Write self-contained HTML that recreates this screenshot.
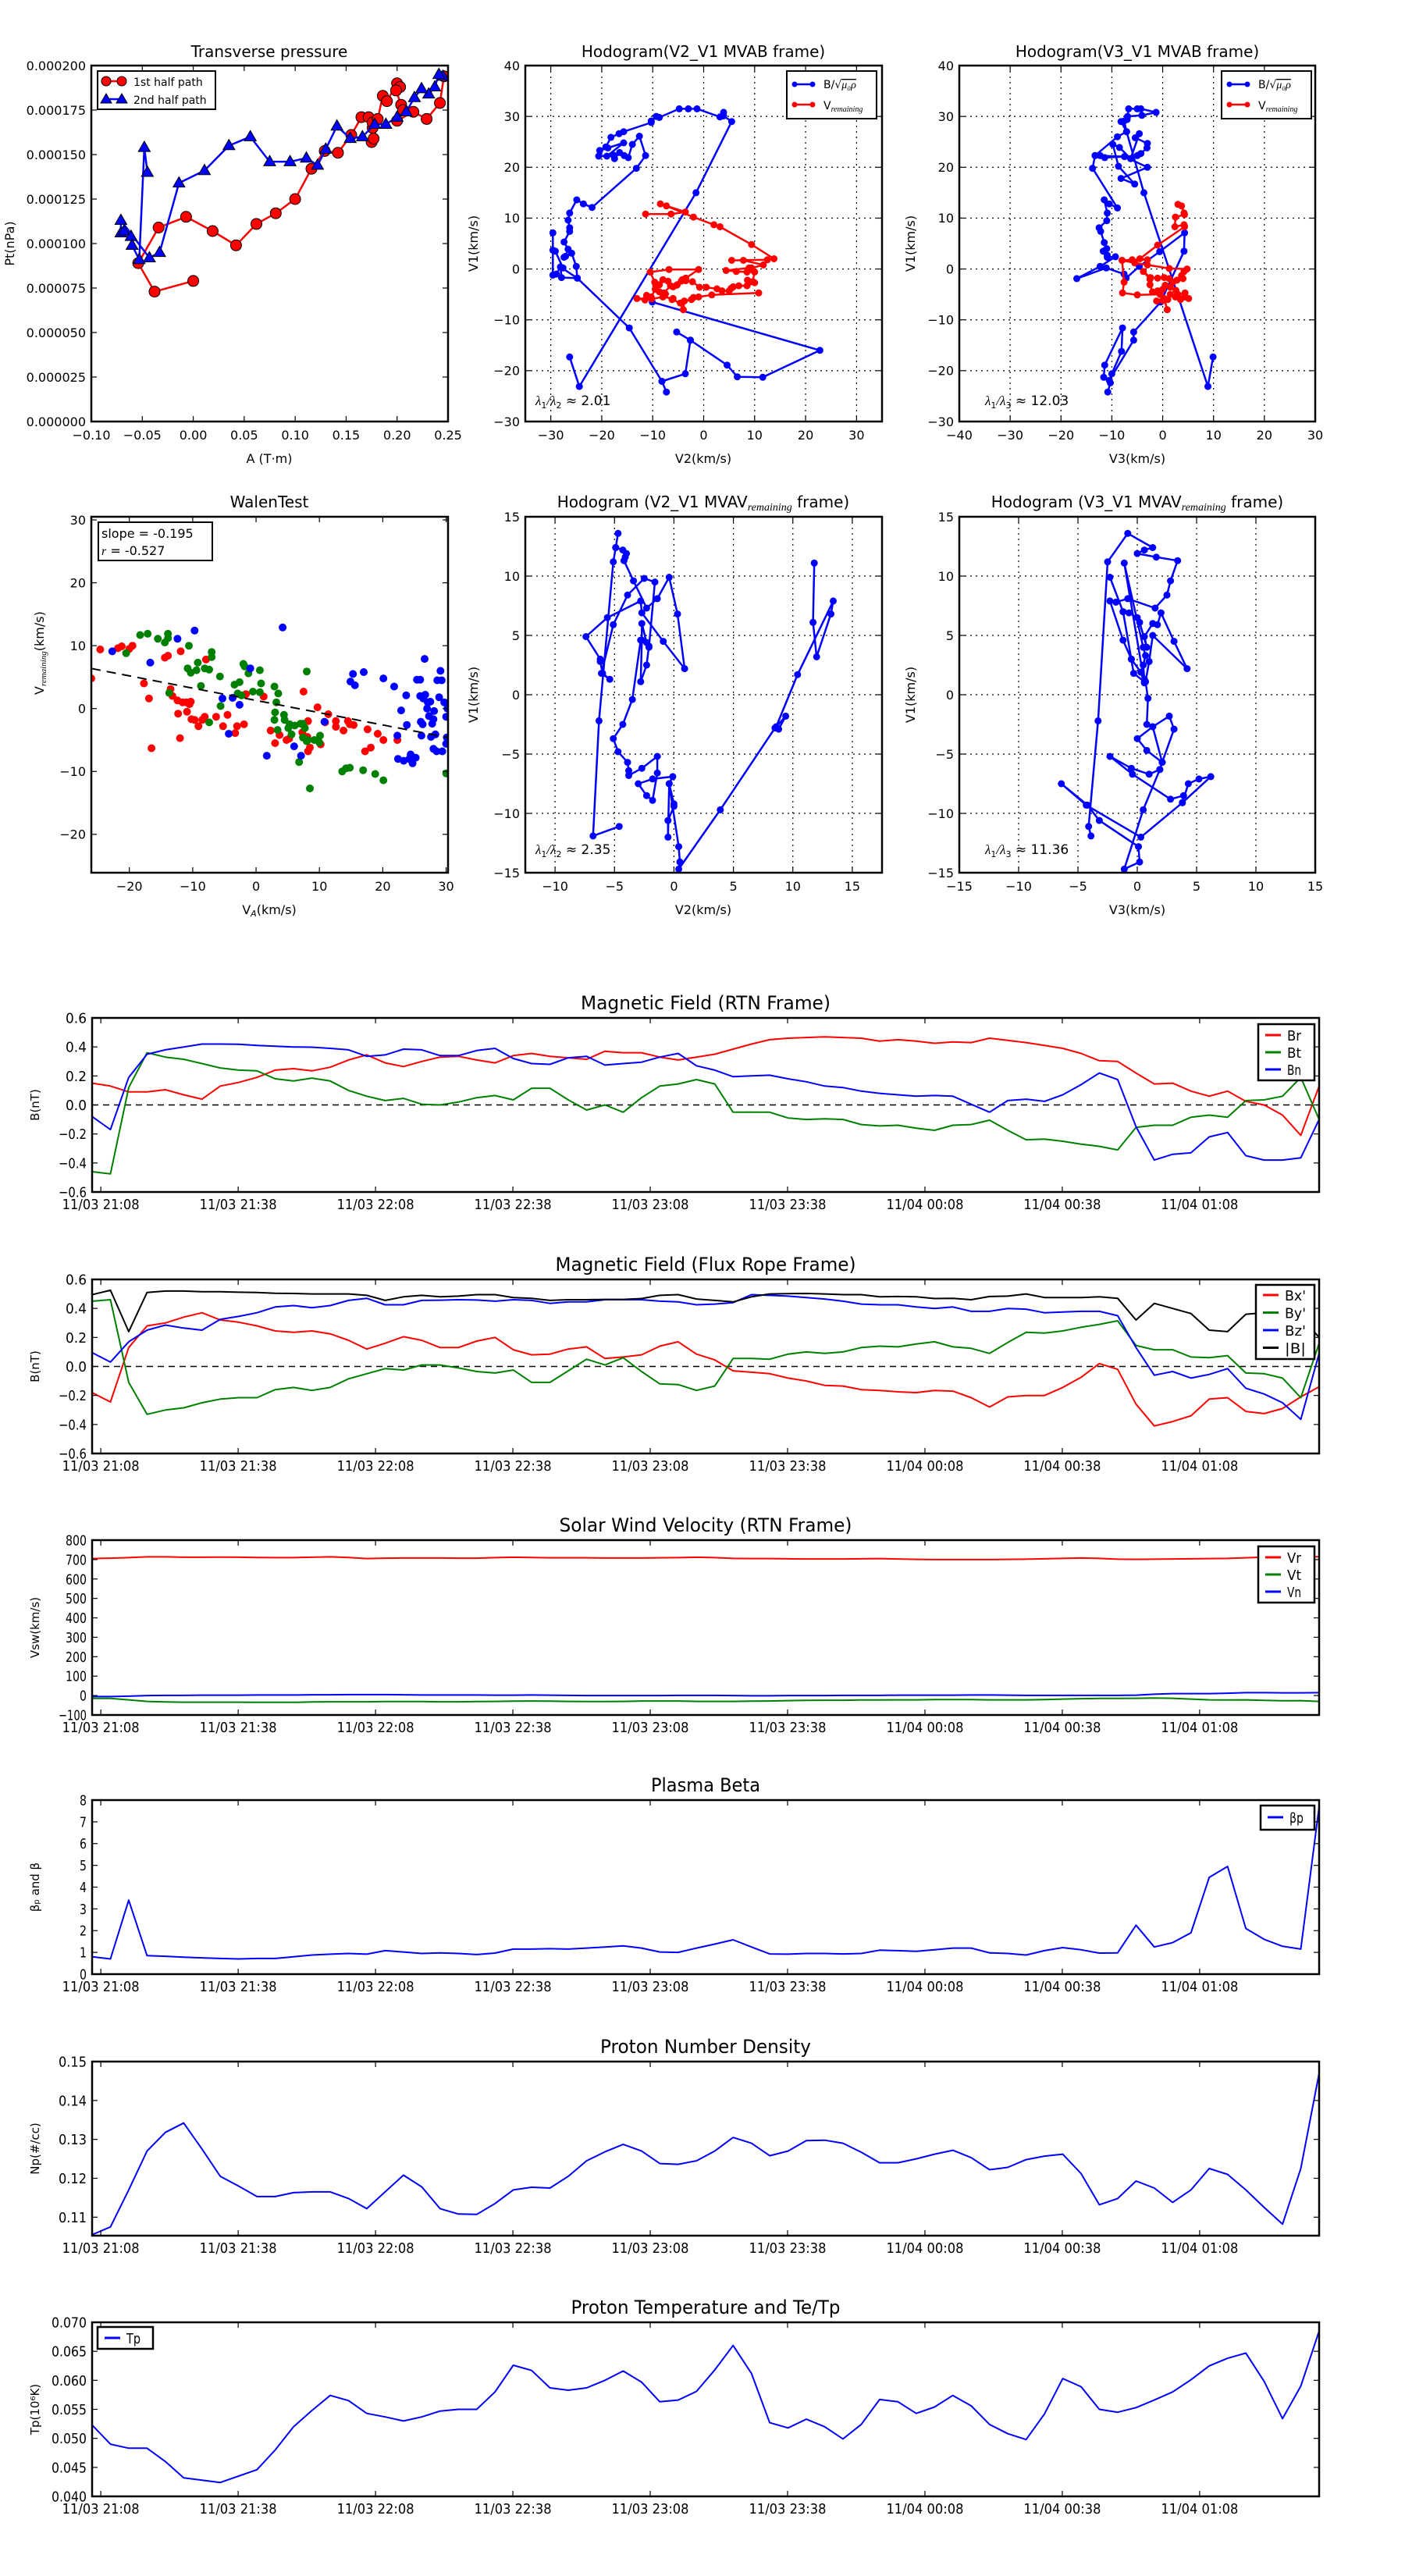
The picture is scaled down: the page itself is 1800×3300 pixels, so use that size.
<!DOCTYPE html>
<html>
<head>
<meta charset="utf-8">
<style>
html,body{margin:0;padding:0;background:#fff;}
svg{display:block;font-family:"DejaVu Sans","Liberation Sans",sans-serif;}
</style>
</head>
<body>
<svg id="fig" width="1800" height="3300" viewBox="0 0 1800 3300" xmlns="http://www.w3.org/2000/svg">
<rect x="0" y="0" width="1800" height="3300" fill="#fff"/>
</svg>
<script>
// ---------------- DATA ----------------
// Transverse pressure (A in T·m, Pt in 1e-6 nPa units)
const pt1A = [0,-0.038,-0.054,-0.034,-0.007,0.019,0.042,0.062,0.081,0.1,0.116,0.129,0.142,0.155,0.165,0.172,0.176,0.175,0.177,0.176,0.181,0.186,0.19,0.2,0.203,0.199,0.204,0.206,0.2,0.216,0.229,0.242,0.246];
const pt1P = [79,73,89,109,115,107,99,111,117,125,142,152,151,161,171,171,165,157,159,168,170,183,180,190,188,186,178,175,169,174,170,179,194];
const pt2A = [0.245,0.241,0.237,0.231,0.224,0.217,0.209,0.2,0.189,0.178,0.166,0.154,0.141,0.13,0.122,0.111,0.095,0.075,0.056,0.035,0.011,-0.014,-0.033,-0.043,-0.071,-0.071,-0.068,-0.061,-0.06,-0.053,-0.048,-0.045];
const pt2P = [194,195,188,184,187,182,174,171,167,167,160,159,166,153,144,148,146,146,160,155,141,134,95,92,113,106,107,104,99,91,154,140];
const ptXTicks = [-0.10,-0.05,0.00,0.05,0.10,0.15,0.20,0.25];
const ptXLabels = ["−0.10","−0.05","0.00","0.05","0.10","0.15","0.20","0.25"];
const ptYTicks = [0,25,50,75,100,125,150,175,200];
const ptYLabels = ["0.000000","0.000025","0.000050","0.000075","0.000100","0.000125","0.000150","0.000175","0.000200"];

// Hodogram V2-V1 MVAB
const h1BlueX = [-26.3,-24.4,-1.5,5.5,3.9,3.9,3.2,-1.3,-3,-4.8,-8.7,-9.3,-10.3,-10.3,-15.7,-16.6,-18.2,-19.2,-20.4,-18.8,-15.7,-19,-20.6,-17.7,-17.5,-16.5,-15.6,-14.8,-14,-12.6,-11.4,-13.2,-21.9,-23.6,-24.9,-26.3,-26.6,-26.3,-26.3,-27.4,-26.6,-27.1,-27.4,-25.9,-25,-24.8,-27.9,-28.1,-27.6,-29.1,-29.6,-29.6,-29.6,-28.9,-28.1,-24.8,-14.6,-8.2,-7.3,-8.2,-3.6,-2.6,-5.3,-2.6,4.6,6.6,11.6,22.8,-10.1];
const h1BlueY = [-17.3,-23.1,15,29,30.1,30.8,29.9,31.5,31.5,31.5,29.8,30,29.1,28.8,27,26.6,25.9,24,23.3,23.8,24.8,22.2,22.2,22.4,21.7,22.9,22.3,21.9,24.5,26.1,22.3,19.8,12.1,12.8,13.6,11,9.6,8.1,7.4,5.3,3.9,2.5,2.3,3.1,0.5,-1.8,-1.7,0.4,0.2,3.5,3.7,7.1,-1.2,-1,0.4,-1.8,-11.6,-22.1,-24.2,-22.1,-20.6,-14,-12.4,-14,-18.9,-21.2,-21.3,-16,-6.5];
const h1RedX = [-11.4,-6.4,-3.6,-8.5,-7.3,-2,2,3.2,9.4,13.8,12.5,5.5,7.8,11.7,9.4,8.9,4.4,6.4,8.5,10,9.6,8.6,10,8.5,6.9,5.8,5.4,5,3.6,2.6,0.5,-0.8,-2.2,-3.5,-4.4,-5.2,-4.2,-3.5,-1,-6.8,-10.5,-9.6,-8.7,-9.4,-8,-7,-6,-5.3,-6.5,-7.8,-7.5,-8.7,-9.5,-10.3,-11.2,-11.5,-13.1,-10.2,-8,-6,-6.2,-4.6,-4,-3.8,-2.4,-2,-1,1.6,10.8];
const h1RedY = [10.8,10.8,11.2,12.8,12.4,10.2,8.7,8.3,4.8,2,1.8,1.7,1.7,0.8,0.2,0.2,-0.3,-0.5,-0.6,-0.6,-2.5,-2.2,-2.7,-3.3,-3.3,-3.5,-3.8,-4.3,-4.3,-3.9,-3.6,-3.6,-2.5,-2.3,-2.4,-3.1,-2.1,-1.8,-0.1,-0.1,-0.6,-2.6,-3.1,-3.5,-2.1,-2.4,-3.5,-3.2,-3.3,-4.7,-4.9,-4.5,-4,-5.5,-5.2,-6.1,-5.8,-5.9,-5.5,-5.8,-6,-6.7,-8,-6.3,-6,-5.6,-5.5,-5.1,-4.7];

// Hodogram V3-V1 MVAB
const h3BlueX = [9.9,8.9,-3.7,-7.1,-7.6,-6.9,-4.1,-1.3,-4.3,-5,-6.7,-7,-8.2,-7.1,-8.9,-13.3,-12.3,-11.4,-7.5,-6.3,-5,-4.3,-3.1,-3,-5.4,-4.6,-6.3,-8.5,-9.8,-8.7,-5.5,-8.2,-3,-7.5,-13.3,-13.8,-8.9,-10.5,-11.5,-10.9,-11,-12.5,-12.2,-11.5,-11,-11.7,-10.9,-10.9,-9.3,-12.3,-16.9,-11.1,-7.6,-7.2,-4.6,-0.6,4.3,4.2,-0.4,-5.7,-5.7,-10.5,-10,-8.1,-7.9,-11.4,-11.6,-10.3,-10.8];
const h3BlueY = [-17.3,-23.1,15,27,29.1,30,30.2,30.8,31.5,31.5,31.5,29.4,29,27,26,22.3,22.3,21.9,22.1,21.7,22.3,22.7,23.8,24.7,25.8,26.6,21.7,23.9,24.5,20.2,16.7,17.8,20,22.1,22.3,19.8,12,12.8,13.6,11,9.5,8.1,7.4,5.2,4,3.5,2.7,2.3,2.4,0.5,-1.9,0.2,-1,-1.8,0.5,3.4,7.1,3.5,-6.5,-12.4,-14,-21.9,-20.6,-16.2,-11.6,-18.9,-21.3,-22.4,-24.2];
const h3RedX = [3,3.7,4.2,4.3,2.5,2.4,4.2,4.3,-1,-4.5,-3,-6,-8,-5.5,-3,1.3,4.8,4.2,3.7,4,2.8,2,1.3,0.3,-1,-2.4,-3.8,-2.5,-2.5,-2,-1,0,0.5,1.5,2.6,3,4.4,4.3,5.1,3.5,2.5,1.5,1,0,-1.2,0.3,0.9,0.3,-0.5,-5,-7.9,-7.6,-8];
const h3RedY = [12.7,12.4,11,10.7,10.2,8.3,8.7,8.3,4.7,2,1.8,1.8,1.7,1.2,0.8,0.1,0,-0.5,-1.3,-1.9,-2.2,-2.6,-1.9,-1.7,-1.8,-1.7,-0.5,-2,-3.1,-4.5,-4.3,-4,-3.2,-3.6,-4.2,-5,-4.7,-5.5,-5.8,-6,-5.5,-5,-6,-6.2,-6.3,-5.8,-8,-6,-5,-5.1,-4.7,-2.6,1.7];

// Walen test
const walRedX = [-26,-24.6,-21.8,-21.2,-20,-19.5,-17.7,-16.9,-16.5,-14.4,-13.9,-13.5,-13.2,-12.4,-12.3,-12,-11.9,-11.6,-11,-10.9,-10.5,-10.3,-10.2,-9.7,-9.1,-8.5,-8.1,-7.9,-6.3,-5.2,-4.5,-3.3,-3,-1.9,-1.6,1.2,2.3,3,3.7,4.8,5.2,7.3,7.5,8.2,8.1,8.5,8.2,9.7,10.2,10.9,11.4,12.6,12.6,13.8,14.5,15.4,17.2,17.6,18.1,19.2,20.1,22.3,14.8];
const walRedY = [4.8,9.4,9.6,9.9,9.5,10,4,1.6,-6.3,8.1,8.4,3.1,2,1.3,-0.8,-4.7,9.1,1,1,-0.5,0.7,1.1,-1.7,-1.8,-2.8,-1.8,-1.3,7.8,-1.3,-2.8,-1,-3.9,-2.8,-2.5,2.3,1.9,-3.5,-5.5,-4.2,-5,-4.8,-3.8,2.7,-6.8,-4.5,-6.2,-2,0.2,-5.7,-2.2,-0.9,-2,-2.9,-3.5,-2,-2.6,-6.8,-3.3,-6.2,-4,-5,-5,-2.5];
const walGreenX = [-20.5,-18.3,-17.1,-15.5,-14.4,-13.9,-13.9,-13.7,-10.6,-10.8,-10.3,-9.2,-9.4,-8.7,-8.1,-7.4,-7.4,-7,-7,-5.7,-5.6,-3.4,-2.6,-2.9,-2.3,-2,-1.8,-1.2,-0.5,0.6,0.6,0.8,2.9,3.2,3.5,3,2.9,3.4,4.4,4.5,5.1,5.3,5.6,6.1,6.8,7,7.4,7.4,7.7,8,8,8.5,8.2,9.2,10,10.1,13.6,14.2,14.8,16.9,18.8,20.1,30];
const walGreenY = [8.8,11.7,11.9,11.1,10.5,11.9,11.2,2.5,10,6.4,5.7,7.3,6.1,3.6,6.4,6.2,-2.2,8.2,9,5.1,0.4,3.8,4.2,2.4,2.1,7.1,6.7,5.6,2.7,2.6,6.1,4,3.5,1,2.4,-0.6,-1.8,-3.4,-1,-1.8,-3.1,-2.5,-4.1,-2.7,-8.5,-2.4,-2.4,-4.6,-3.1,-5.2,5.9,-12.7,-5,-5,-5.4,-4.3,-10,-9.5,-9.4,-9.8,-10.4,-11.4,-10.3];
const walBlueX = [-22.7,-16.7,-12.4,-9.7,-5.3,-3.7,-4.3,-2.6,-0.9,1.7,4.2,6,7.1,10.8,14.9,15.3,15.6,17,20.1,21.8,22.3,22.4,22.9,23.3,23.7,23.8,24.2,24.4,24.7,25.2,25.4,25.9,25.9,26,26.1,26.3,26.4,26.6,26.7,27,27.1,27.3,27.6,27.5,27.8,28,28,28.1,28.3,28.5,28.6,28.9,29.1,29.3,29.4,29.7,30,30,30.2,30.1];
const walBlueY = [9.1,7.3,11.1,12.4,1.6,1.7,-4,0.6,6.4,-7.5,12.9,-6,-7.5,-2.1,4.3,5.5,3.7,5.8,4.8,3.5,-4.3,-8,-0.3,-8.3,2.1,-2.6,-8,-7.3,-8.7,-7.8,4.6,4.6,2,-2.1,-4.3,-2.5,1.6,7.9,2.2,0,1,-1.2,-4.5,1.1,-2.4,-6.4,-1.7,-0.4,-4.1,-6.8,4.5,1.8,6,4.5,-6.8,1,-1.3,-5.6,0,-4.6];
const walSlope = [-0.195];
const walIntercept = [1.3];
const walFitRange = [-26, 30.3];

// Hodogram V2-V1 MVAV remaining
const h2rX = [-4.6,-6.8,-6.3,-5.1,-4.9,-4.7,-4.9,-4.3,-4,-4.1,-4.2,-3.4,-2.3,-1.4,-0.4,0.3,0.9,-0.9,-2.7,-2.8,-5.6,-7.4,-6.2,-6.2,-6,-5.4,-6.1,-5.1,-3.9,-2.5,-1.6,-2.1,-2.3,-2.7,-2.7,-2.8,-2.3,-2.1,-2.8,-3.5,-4.3,-5.1,-4.7,-3.9,-3.8,-3.8,-2.7,-1.4,-1.4,-1.8,-2.3,-3,-1.8,-0.1,-0.4,0,0,-0.5,-0.5,-0.4,0.4,0.5,0.4,3.9,8.5,8.8,9.4,8.6,10.4,13.4,13.2,12,11.7,11.8];
const h2rY = [-11.1,-11.9,-2.2,11.2,12.4,13.6,12.4,12.2,11.9,11.6,11.3,9.6,7.3,8.1,9.9,6.8,2.2,4.5,6.9,7.9,6.5,4.9,3,2.8,1.8,1.3,1.8,5.9,8.4,9.8,9.5,4,4.4,6,4.6,1.1,2.5,4.1,4.6,-0.4,-2.5,-3.7,-4.8,-5.7,-6.4,-6.8,-6.2,-5.2,-6.6,-8.9,-8.5,-7.5,-7.1,-6.9,-7.5,-9.2,-9.4,-10.6,-12,-7.5,-12.8,-14.1,-14.7,-9.7,-2.8,-2.9,-1.8,-2.7,1.7,7.9,6.8,3.2,6.1,11.1];

// Hodogram V3-V1 MVAV remaining
const h3rX = [-3.9,-4.1,-3.3,-2.5,-0.8,1.3,0.6,0,1.6,3.4,2.8,2.5,1.5,-0.8,-1.8,-2.3,-1.2,-0.5,0.3,0.6,-1.1,0.5,0.7,0.5,0.6,0.6,-0.3,-0.5,-1.2,-2.3,-1.2,-0.7,0,0.2,0.8,0.6,1.3,1.7,2,3.1,4.2,1.3,1,0.7,0.9,0.8,1.3,2.7,3.1,2.1,0.8,0,1.3,2.1,1.9,1,-0.5,-2.3,-0.4,2.8,3.9,3.8,4.3,5.2,6.2,3.8,0.3,-4.3,-6.4,-4.2,-3.2,0.1,0.2,-1.1,0.5,1.9];
const h3rY = [-11.9,-11.1,-2.2,11.2,13.6,12.4,12.2,11.9,11.6,11.3,9.6,8.4,7.3,8.1,7.8,7.9,4.6,3,1.9,1,11.1,4,3.3,2.5,1.3,1.1,1.8,3,7,9.9,7,6.9,6.5,6.1,4,4.9,6,5.9,6.9,4.5,2.2,5,2.8,1.1,-0.3,-2.5,-2.7,-1.8,-2.9,-5.7,-4.7,-3.7,-2.7,-5.7,-6.3,-6.7,-6.2,-5.2,-6.7,-8.8,-8.5,-9.1,-7.5,-7.1,-6.9,-9.1,-12,-9.3,-7.5,-9.3,-10.6,-12.8,-14.1,-14.7,-9.7,-6.3];

// Time series (68 samples, 4-minute cadence)
const tsStartMin = -1.9;
const tsStepMin = 4;
const timeTickMin = [0,30,60,90,120,150,180,210,240];
const timeTickLabels = ["11/03 21:08","11/03 21:38","11/03 22:08","11/03 22:38","11/03 23:08","11/03 23:38","11/04 00:08","11/04 00:38","11/04 01:08"];

const Br = [0.15,0.13,0.09,0.09,0.105,0.07,0.04,0.13,0.155,0.19,0.24,0.25,0.235,0.26,0.31,0.345,0.29,0.265,0.30,0.33,0.335,0.31,0.29,0.34,0.355,0.335,0.325,0.315,0.37,0.36,0.36,0.33,0.31,0.33,0.35,0.385,0.42,0.45,0.46,0.465,0.47,0.465,0.46,0.44,0.45,0.44,0.425,0.435,0.43,0.46,0.445,0.43,0.41,0.39,0.355,0.305,0.30,0.22,0.145,0.15,0.095,0.06,0.095,0.025,0,-0.07,-0.21,0.13];
const Bt = [-0.46,-0.475,0.12,0.36,0.33,0.315,0.285,0.255,0.24,0.235,0.18,0.165,0.185,0.165,0.1,0.06,0.03,0.045,0.005,0,0.02,0.05,0.065,0.035,0.115,0.115,0.035,-0.035,0,-0.05,0.05,0.13,0.145,0.175,0.145,-0.05,-0.05,-0.05,-0.09,-0.1,-0.095,-0.1,-0.135,-0.145,-0.14,-0.16,-0.175,-0.14,-0.135,-0.105,-0.175,-0.24,-0.235,-0.25,-0.27,-0.285,-0.31,-0.155,-0.14,-0.14,-0.085,-0.07,-0.085,0.03,0.035,0.06,0.19,-0.1];
const Bn = [-0.08,-0.17,0.19,0.35,0.38,0.40,0.42,0.42,0.418,0.41,0.405,0.4,0.398,0.39,0.38,0.335,0.345,0.385,0.38,0.34,0.34,0.375,0.39,0.32,0.285,0.28,0.325,0.335,0.275,0.285,0.295,0.33,0.355,0.27,0.24,0.195,0.2,0.205,0.18,0.16,0.13,0.12,0.095,0.08,0.07,0.06,0.065,0.06,0.005,-0.05,0.03,0.04,0.025,0.07,0.14,0.22,0.175,-0.15,-0.38,-0.34,-0.33,-0.22,-0.19,-0.35,-0.38,-0.38,-0.365,-0.1];

const Bxp = [-0.18,-0.245,0.13,0.28,0.30,0.34,0.37,0.32,0.305,0.28,0.245,0.235,0.245,0.225,0.18,0.12,0.16,0.205,0.18,0.13,0.13,0.175,0.2,0.115,0.08,0.085,0.12,0.135,0.055,0.065,0.08,0.14,0.17,0.085,0.045,-0.03,-0.04,-0.05,-0.08,-0.1,-0.13,-0.135,-0.16,-0.165,-0.175,-0.18,-0.165,-0.17,-0.215,-0.28,-0.21,-0.2,-0.2,-0.145,-0.075,0.02,-0.02,-0.26,-0.41,-0.38,-0.34,-0.225,-0.215,-0.31,-0.325,-0.29,-0.21,-0.14];
const Byp = [0.45,0.46,-0.11,-0.33,-0.3,-0.285,-0.25,-0.225,-0.215,-0.215,-0.16,-0.145,-0.165,-0.145,-0.085,-0.05,-0.015,-0.025,0.01,0.01,-0.01,-0.035,-0.045,-0.025,-0.11,-0.11,-0.03,0.05,0.01,0.06,-0.035,-0.12,-0.125,-0.165,-0.135,0.055,0.055,0.05,0.085,0.1,0.09,0.1,0.13,0.14,0.135,0.155,0.17,0.135,0.125,0.09,0.165,0.235,0.23,0.245,0.27,0.29,0.315,0.145,0.115,0.115,0.065,0.06,0.075,-0.045,-0.05,-0.08,-0.215,0.16];
const Bzp = [0.095,0.03,0.17,0.25,0.285,0.265,0.25,0.325,0.345,0.37,0.41,0.42,0.405,0.42,0.455,0.47,0.425,0.425,0.455,0.457,0.46,0.458,0.45,0.46,0.455,0.435,0.445,0.445,0.46,0.46,0.46,0.45,0.445,0.425,0.43,0.44,0.495,0.49,0.485,0.475,0.465,0.45,0.43,0.425,0.425,0.41,0.4,0.41,0.38,0.38,0.4,0.395,0.37,0.375,0.38,0.38,0.35,0.13,-0.06,-0.035,-0.08,-0.055,-0.015,-0.15,-0.19,-0.25,-0.365,0.09];
const Bmag = [0.495,0.525,0.24,0.51,0.52,0.52,0.515,0.515,0.512,0.51,0.505,0.503,0.5,0.5,0.5,0.49,0.455,0.48,0.49,0.48,0.485,0.495,0.495,0.475,0.47,0.455,0.46,0.46,0.462,0.462,0.468,0.49,0.495,0.465,0.455,0.445,0.48,0.5,0.502,0.503,0.5,0.495,0.495,0.48,0.482,0.48,0.468,0.47,0.46,0.482,0.485,0.5,0.475,0.475,0.475,0.48,0.47,0.32,0.435,0.4,0.365,0.25,0.24,0.36,0.37,0.35,0.34,0.2];

const Vr = [705,707,710,714,714,712,712,713,712,711,710,710,712,714,711,705,707,708,708,708,707,707,710,712,711,709,709,709,708,708,708,709,710,712,710,706,705,705,704,703,703,703,704,705,703,701,700,700,700,700,701,702,704,706,708,706,702,701,702,703,704,705,706,709,713,715,715,714];
const Vt = [-15,-15,-22,-30,-33,-34,-34,-34,-34,-35,-35,-35,-33,-32,-32,-32,-31,-31,-31,-32,-32,-31,-30,-29,-28,-29,-30,-31,-31,-30,-28,-28,-28,-30,-30,-30,-29,-28,-26,-25,-24,-24,-23,-23,-22,-22,-21,-21,-21,-22,-22,-22,-21,-18,-16,-15,-15,-14,-13,-14,-18,-22,-23,-22,-25,-27,-26,-30];
const Vn = [-5,-5,-3,0,1,1,2,2,2,3,3,3,4,4,5,5,5,4,3,3,3,3,2,2,3,2,1,0,0,0,0,0,1,1,1,0,-1,-1,0,0,0,1,1,1,2,2,2,2,3,3,2,1,1,1,1,1,1,2,7,10,10,10,12,15,15,14,14,15];

const betaP = [0.8,0.7,3.4,0.85,0.82,0.78,0.75,0.72,0.7,0.72,0.72,0.8,0.88,0.92,0.95,0.92,1.08,1.02,0.95,0.98,0.95,0.9,0.97,1.15,1.15,1.17,1.15,1.2,1.25,1.3,1.2,1.02,1.0,1.2,1.38,1.58,1.25,0.93,0.92,0.95,0.95,0.93,0.95,1.1,1.08,1.05,1.12,1.2,1.2,0.98,0.95,0.88,1.08,1.22,1.12,0.97,0.98,2.25,1.25,1.45,1.9,4.45,4.95,2.1,1.6,1.28,1.15,7.7];

const Np = [0.1055,0.1075,0.117,0.127,0.1318,0.1342,0.1275,0.1205,0.118,0.1153,0.1153,0.1163,0.1165,0.1165,0.1148,0.1122,0.1165,0.1208,0.1178,0.1122,0.1108,0.1107,0.1135,0.117,0.1177,0.1175,0.1205,0.1245,0.1268,0.1287,0.127,0.1238,0.1236,0.1245,0.127,0.1305,0.129,0.1258,0.127,0.1297,0.1298,0.129,0.1267,0.124,0.124,0.125,0.1262,0.1272,0.1253,0.1222,0.1228,0.1248,0.1257,0.1262,0.1212,0.1132,0.1148,0.1193,0.1175,0.1138,0.117,0.1225,0.121,0.117,0.1125,0.1082,0.1225,0.147];

const Tp = [0.0523,0.049,0.0483,0.0483,0.046,0.0432,0.0428,0.0424,0.0435,0.0446,0.048,0.052,0.0548,0.0574,0.0565,0.0543,0.0537,0.053,0.0537,0.0547,0.055,0.055,0.058,0.0626,0.0617,0.0587,0.0583,0.0587,0.06,0.0616,0.0597,0.0563,0.0566,0.0581,0.0618,0.066,0.0612,0.0527,0.0518,0.0533,0.052,0.0499,0.0524,0.0567,0.0563,0.0543,0.0554,0.0574,0.0556,0.0524,0.0508,0.0498,0.0542,0.0603,0.0589,0.055,0.0545,0.0553,0.0566,0.058,0.0601,0.0625,0.0638,0.0647,0.0598,0.0534,0.059,0.0685];

// ---------------- HELPERS ----------------
const NS = 'http://www.w3.org/2000/svg';
const svg = document.getElementById('fig');
let clipN = 0;

function mk(tag, attrs, parent, name, inter) {
  const e = document.createElementNS(NS, tag);
  for (const k in attrs) e.setAttribute(k, attrs[k]);
  
  
  parent.appendChild(e);
  return e;
}
function txt(parent, x, y, s, opts, name) {
  const a = {x: x, y: y, 'font-size': opts.fs || 16, fill: '#000'};
  if (opts.anchor) a['text-anchor'] = opts.anchor;
  if (opts.rot) a.transform = 'rotate(' + opts.rot + ' ' + x + ' ' + y + ')';
  if (opts.narrow) { a.textLength = (opts.len || s.length * (opts.fs || 16) * 0.5); a.lengthAdjust = 'spacingAndGlyphs'; }
  if (opts.family) a['font-family'] = opts.family;
  if (opts.style) a['font-style'] = opts.style;
  const t = mk('text', a, parent, name, false);
  t.textContent = s;
  return t;
}

function axes(cfg) {
  const g = mk('g', {}, svg, cfg.name, false);
  const sx = v => cfg.x0 + (v - cfg.xmin) / (cfg.xmax - cfg.xmin) * (cfg.x1 - cfg.x0);
  const sy = v => cfg.y1 - (v - cfg.ymin) / (cfg.ymax - cfg.ymin) * (cfg.y1 - cfg.y0);
  const fs = cfg.tickFs || 16;
  const tl = 7;
  // grid
  if (cfg.grid) {
    cfg.xticks.forEach(v => {
      const X = sx(v);
      if (X > cfg.x0 + 1 && X < cfg.x1 - 1) mk('line', {x1: X, x2: X, y1: cfg.y0, y2: cfg.y1, stroke: '#000', 'stroke-width': 1.2, 'stroke-dasharray': '2,5'}, g, 'x-grid-line', false);
    });
    cfg.yticks.forEach(v => {
      const Y = sy(v);
      if (Y > cfg.y0 + 1 && Y < cfg.y1 - 1) mk('line', {x1: cfg.x0, x2: cfg.x1, y1: Y, y2: Y, stroke: '#000', 'stroke-width': 1.2, 'stroke-dasharray': '2,5'}, g, 'y-grid-line', false);
    });
  }
  // clip
  const id = 'clip' + (clipN++);
  const cp = mk('clipPath', {id: id}, g, 'plot-clip', false);
  mk('rect', {x: cfg.x0, y: cfg.y0, width: cfg.x1 - cfg.x0, height: cfg.y1 - cfg.y0}, cp, 'plot-clip-rect', false);
  const plot = mk('g', {'clip-path': 'url(#' + id + ')'}, g, 'plot-area', false);
  // ticks
  const tg = mk('g', {}, g, 'ticks', false);
  cfg.xticks.forEach((v, i) => {
    const X = sx(v);
    mk('line', {x1: X, x2: X, y1: cfg.y1, y2: cfg.y1 - tl, stroke: '#000', 'stroke-width': 1.2}, tg, 'x-tick', false);
    mk('line', {x1: X, x2: X, y1: cfg.y0, y2: cfg.y0 + tl, stroke: '#000', 'stroke-width': 1.2}, tg, 'x-tick-top', false);
    txt(tg, X, cfg.y1 + (cfg.xTickDy || 23), cfg.xlabels[i], {fs: fs, anchor: 'middle', narrow: cfg.narrow}, 'x-tick-label');
  });
  cfg.yticks.forEach((v, i) => {
    const Y = sy(v);
    mk('line', {x1: cfg.x0, x2: cfg.x0 + tl, y1: Y, y2: Y, stroke: '#000', 'stroke-width': 1.2}, tg, 'y-tick', false);
    mk('line', {x1: cfg.x1, x2: cfg.x1 - tl, y1: Y, y2: Y, stroke: '#000', 'stroke-width': 1.2}, tg, 'y-tick-right', false);
    txt(tg, cfg.x0 - 7, Y + fs * 0.36, cfg.ylabels[i], {fs: fs, anchor: 'end', narrow: cfg.narrow}, 'y-tick-label');
  });
  return {g: g, plot: plot, sx: sx, sy: sy, cfg: cfg};
}
function frame(ax) {
  const c = ax.cfg;
  mk('rect', {x: c.x0, y: c.y0, width: c.x1 - c.x0, height: c.y1 - c.y0, fill: 'none', stroke: '#000', 'stroke-width': c.frameW || 2.5}, ax.g, 'axes-frame', false);
}
function polyline(ax, xs, ys, color, w, name) {
  const pts = xs.map((x, i) => ax.sx(x).toFixed(1) + ',' + ax.sy(ys[i]).toFixed(1)).join(' ');
  return mk('polyline', {points: pts, fill: 'none', stroke: color, 'stroke-width': w, 'stroke-linejoin': 'round'}, ax.plot, name, false);
}
function dots(ax, xs, ys, color, r, name, stroke) {
  const g = mk('g', {}, ax.plot, name, false);
  xs.forEach((x, i) => {
    const c = mk('circle', {cx: ax.sx(x).toFixed(1), cy: ax.sy(ys[i]).toFixed(1), r: r, fill: color}, g, name + '-point', false);
    if (stroke) { c.setAttribute('stroke', stroke); c.setAttribute('stroke-width', 1); }
  });
  return g;
}
function tris(ax, xs, ys, color, s, name) {
  const g = mk('g', {}, ax.plot, name, false);
  xs.forEach((x, i) => {
    const X = ax.sx(x), Y = ax.sy(ys[i]);
    mk('polygon', {points: (X) + ',' + (Y - s) + ' ' + (X - s * 0.95) + ',' + (Y + s * 0.65) + ' ' + (X + s * 0.95) + ',' + (Y + s * 0.65), fill: color, stroke: '#000', 'stroke-width': 1}, g, name + '-point', false);
  });
  return g;
}
function rng(a, b, st) { const r = []; for (let v = a; v <= b + 1e-9; v += st) r.push(Math.round(v * 1000) / 1000); return r; }
function lab(arr) { return arr.map(v => (v < 0 ? '−' + (-v) : '' + v)); }

// ---------------- TOP ROW ----------------
const R1 = {y0: 84, y1: 540};
const R2 = {y0: 662, y1: 1118};
const PX = [[117, 574], [673, 1130], [1229, 1685]];

// Panel: Transverse pressure
(function () {
  const ax = axes({name: 'transverse-pressure-chart', x0: PX[0][0], x1: PX[0][1], y0: R1.y0, y1: R1.y1, xmin: -0.1, xmax: 0.25, ymin: 0, ymax: 200,
    xticks: ptXTicks, xlabels: ptXLabels, yticks: ptYTicks, ylabels: ptYLabels, tickFs: 16});
  polyline(ax, pt1A, pt1P, '#f00', 2.5, 'first-half-path-line');
  dots(ax, pt1A, pt1P, '#f00', 7, 'first-half-path-markers', '#000');
  polyline(ax, pt2A, pt2P, '#00f', 2.5, 'second-half-path-line');
  tris(ax, pt2A, pt2P, '#00f', 8, 'second-half-path-markers');
  frame(ax);
  txt(ax.g, 345, 73, 'Transverse pressure', {fs: 20, anchor: 'middle'}, 'chart-title');
  txt(ax.g, 345, 593, 'A (T·m)', {fs: 16, anchor: 'middle'}, 'x-axis-title');
  txt(ax.g, 18, 312, 'Pt(nPa)', {fs: 16, anchor: 'middle', rot: -90}, 'y-axis-title');
  const lg = mk('g', {}, ax.g, 'legend', false);
  mk('rect', {x: 125, y: 91, width: 151, height: 49, fill: '#fff', stroke: '#000', 'stroke-width': 2}, lg, 'legend-box', false);
  mk('line', {x1: 136, x2: 156, y1: 104, y2: 104, stroke: '#f00', 'stroke-width': 2.5}, lg, 'legend-line-first', false);
  mk('circle', {cx: 136, cy: 104, r: 6, fill: '#f00', stroke: '#000'}, lg, 'legend-marker-first', false);
  mk('circle', {cx: 156, cy: 104, r: 6, fill: '#f00', stroke: '#000'}, lg, 'legend-marker-first', false);
  txt(lg, 171, 110, '1st half path', {fs: 14}, 'legend-entry-first-half');
  mk('line', {x1: 136, x2: 156, y1: 127, y2: 127, stroke: '#00f', 'stroke-width': 2.5}, lg, 'legend-line-second', false);
  mk('polygon', {points: '136,120 129,132 143,132', fill: '#00f', stroke: '#000'}, lg, 'legend-marker-second', false);
  mk('polygon', {points: '156,120 149,132 163,132', fill: '#00f', stroke: '#000'}, lg, 'legend-marker-second', false);
  txt(lg, 171, 133, '2nd half path', {fs: 14}, 'legend-entry-second-half');
})();

function hodoLegend(g, x, y) {
  mk('rect', {x: x, y: y, width: 115, height: 61, fill: '#fff', stroke: '#000', 'stroke-width': 2}, g, 'legend-box', false);
  mk('line', {x1: x + 10, x2: x + 33, y1: y + 17, y2: y + 17, stroke: '#00f', 'stroke-width': 2.5}, g, 'legend-line-b', false);
  mk('circle', {cx: x + 10, cy: y + 17, r: 3.5, fill: '#00f'}, g, 'legend-marker-b', false);
  mk('circle', {cx: x + 33, cy: y + 17, r: 3.5, fill: '#00f'}, g, 'legend-marker-b', false);
  const t1 = txt(g, x + 47, y + 22, 'B/√', {fs: 14}, 'legend-entry-b-alfven');
  const ts = document.createElementNS(NS, 'tspan');
  ts.setAttribute('font-family', 'Liberation Serif, serif');
  ts.setAttribute('font-style', 'italic');
  ts.setAttribute('text-decoration', 'overline');
  ts.textContent = 'μ₀ρ';
  t1.appendChild(ts);
  mk('line', {x1: x + 10, x2: x + 33, y1: y + 43, y2: y + 43, stroke: '#f00', 'stroke-width': 2.5}, g, 'legend-line-v', false);
  mk('circle', {cx: x + 10, cy: y + 43, r: 3.5, fill: '#f00'}, g, 'legend-marker-v', false);
  mk('circle', {cx: x + 33, cy: y + 43, r: 3.5, fill: '#f00'}, g, 'legend-marker-v', false);
  const t2 = txt(g, x + 47, y + 49, 'V', {fs: 14}, 'legend-entry-v-remaining');
  const ts2 = document.createElementNS(NS, 'tspan');
  ts2.setAttribute('font-family', 'Liberation Serif, serif');
  ts2.setAttribute('font-style', 'italic');
  ts2.setAttribute('font-size', '10');
  ts2.setAttribute('dy', '3');
  ts2.textContent = 'remaining';
  t2.appendChild(ts2);
}
function lambdaText(g, x, y, a, b, val) {
  const t = txt(g, x, y, '', {fs: 17}, 'eigenvalue-ratio-label');
  const parts = [['λ', true, 0], ['1', false, 4], ['/', true, -4], ['λ', true, 0], [b, false, 4], [' ≈ ' + val, false, -4]];
  parts.forEach(p => {
    const s = document.createElementNS(NS, 'tspan');
    if (p[1]) { s.setAttribute('font-family', 'Liberation Serif, serif'); s.setAttribute('font-style', 'italic'); }
    if (p[2]) s.setAttribute('dy', p[2]);
    if (p[2] > 0) s.setAttribute('font-size', '11');
    s.textContent = p[0];
    t.appendChild(s);
  });
}

// Hodogram V2_V1 MVAB
(function () {
  const xt = rng(-30, 30, 10), yt = rng(-30, 40, 10);
  const ax = axes({name: 'hodogram-v2-v1-mvab', x0: PX[1][0], x1: PX[1][1], y0: R1.y0, y1: R1.y1, xmin: -35, xmax: 35, ymin: -30, ymax: 40,
    xticks: xt, xlabels: lab(xt), yticks: yt, ylabels: lab(yt), grid: true});
  polyline(ax, h1BlueX, h1BlueY, '#00f', 2.5, 'b-alfven-path');
  dots(ax, h1BlueX, h1BlueY, '#00f', 4.5, 'b-alfven-points');
  polyline(ax, h1RedX, h1RedY, '#f00', 2.5, 'v-remaining-path');
  dots(ax, h1RedX, h1RedY, '#f00', 4.5, 'v-remaining-points');
  frame(ax);
  txt(ax.g, 901, 73, 'Hodogram(V2_V1 MVAB frame)', {fs: 20, anchor: 'middle'}, 'chart-title');
  txt(ax.g, 901, 593, 'V2(km/s)', {fs: 16, anchor: 'middle'}, 'x-axis-title');
  txt(ax.g, 612, 312, 'V1(km/s)', {fs: 16, anchor: 'middle', rot: -90}, 'y-axis-title');
  hodoLegend(ax.g, 1008, 91);
  lambdaText(ax.g, 686, 519, '1', '2', '2.01');
})();

// Hodogram V3_V1 MVAB
(function () {
  const xt = rng(-40, 30, 10), yt = rng(-30, 40, 10);
  const ax = axes({name: 'hodogram-v3-v1-mvab', x0: PX[2][0], x1: PX[2][1], y0: R1.y0, y1: R1.y1, xmin: -40, xmax: 30, ymin: -30, ymax: 40,
    xticks: xt, xlabels: lab(xt), yticks: yt, ylabels: lab(yt), grid: true});
  polyline(ax, h3BlueX, h3BlueY, '#00f', 2.5, 'b-alfven-path');
  dots(ax, h3BlueX, h3BlueY, '#00f', 4.5, 'b-alfven-points');
  polyline(ax, h3RedX, h3RedY, '#f00', 2.5, 'v-remaining-path');
  dots(ax, h3RedX, h3RedY, '#f00', 4.5, 'v-remaining-points');
  frame(ax);
  txt(ax.g, 1457, 73, 'Hodogram(V3_V1 MVAB frame)', {fs: 20, anchor: 'middle'}, 'chart-title');
  txt(ax.g, 1457, 593, 'V3(km/s)', {fs: 16, anchor: 'middle'}, 'x-axis-title');
  txt(ax.g, 1172, 312, 'V1(km/s)', {fs: 16, anchor: 'middle', rot: -90}, 'y-axis-title');
  hodoLegend(ax.g, 1565, 91);
  lambdaText(ax.g, 1262, 519, '1', '3', '12.03');
})();

// Walen test
(function () {
  const xt = rng(-20, 30, 10), yt = rng(-20, 30, 10);
  const ax = axes({name: 'walen-test-chart', x0: PX[0][0], x1: PX[0][1], y0: R2.y0, y1: R2.y1, xmin: -26, xmax: 30.3, ymin: -26.1, ymax: 30.5,
    xticks: xt, xlabels: lab(xt), yticks: yt, ylabels: lab(yt)});
  dots(ax, walRedX, walRedY, '#f00', 5, 'walen-red-points');
  dots(ax, walGreenX, walGreenY, '#008000', 5, 'walen-green-points');
  dots(ax, walBlueX, walBlueY, '#00f', 5, 'walen-blue-points');
  const fy = walFitRange.map(x => walIntercept[0] + walSlope[0] * x);
  const fl = polyline(ax, walFitRange, fy, '#000', 2, 'walen-fit-line');
  fl.setAttribute('stroke-dasharray', '12,8');
  frame(ax);
  txt(ax.g, 345, 650, 'WalenTest', {fs: 20, anchor: 'middle'}, 'chart-title');
  const xl = txt(ax.g, 345, 1171, 'V', {fs: 16, anchor: 'middle'}, 'x-axis-title');
  const s1 = document.createElementNS(NS, 'tspan'); s1.setAttribute('font-size', '11'); s1.setAttribute('font-style', 'italic'); s1.setAttribute('dy', '3'); s1.textContent = 'A'; xl.appendChild(s1);
  const s2 = document.createElementNS(NS, 'tspan'); s2.setAttribute('dy', '-3'); s2.textContent = '(km/s)'; xl.appendChild(s2);
  const yl = txt(ax.g, 56, 890, 'V', {fs: 16, rot: -90}, 'y-axis-title');
  const s3 = document.createElementNS(NS, 'tspan'); s3.setAttribute('font-size', '11'); s3.setAttribute('font-style', 'italic'); s3.setAttribute('font-family', 'Liberation Serif, serif'); s3.setAttribute('dy', '3'); s3.textContent = 'remaining'; yl.appendChild(s3);
  const s4 = document.createElementNS(NS, 'tspan'); s4.setAttribute('dy', '-3'); s4.textContent = '(km/s)'; yl.appendChild(s4);
  const bx = mk('g', {}, ax.g, 'fit-stats-box', false);
  mk('rect', {x: 126, y: 669, width: 146, height: 49, fill: '#fff', stroke: '#000', 'stroke-width': 2}, bx, 'fit-stats-frame', false);
  txt(bx, 130, 689, 'slope = -0.195', {fs: 16}, 'slope-label');
  const rt = txt(bx, 130, 711, '', {fs: 16}, 'correlation-label');
  const r1 = document.createElementNS(NS, 'tspan'); r1.setAttribute('font-style', 'italic'); r1.setAttribute('font-family', 'Liberation Serif, serif'); r1.textContent = 'r'; rt.appendChild(r1);
  const r2 = document.createElementNS(NS, 'tspan'); r2.textContent = ' = -0.527'; rt.appendChild(r2);
})();

function titleSub(g, x, y, pre, post) {
  const t = txt(g, x, y, pre, {fs: 20, anchor: 'middle'}, 'chart-title');
  const s = document.createElementNS(NS, 'tspan'); s.setAttribute('font-family', 'Liberation Serif, serif'); s.setAttribute('font-style', 'italic'); s.setAttribute('font-size', '14'); s.setAttribute('dy', '4'); s.textContent = 'remaining'; t.appendChild(s);
  const s2 = document.createElementNS(NS, 'tspan'); s2.setAttribute('dy', '-4'); s2.textContent = post; t.appendChild(s2);
}

// Hodogram V2_V1 MVAV remaining
(function () {
  const xt = rng(-10, 15, 5), yt = rng(-15, 15, 5);
  const ax = axes({name: 'hodogram-v2-v1-mvav', x0: PX[1][0], x1: PX[1][1], y0: R2.y0, y1: R2.y1, xmin: -12.5, xmax: 17.5, ymin: -15, ymax: 15,
    xticks: xt, xlabels: lab(xt), yticks: yt, ylabels: lab(yt), grid: true});
  polyline(ax, h2rX, h2rY, '#00f', 2.5, 'b-alfven-path');
  dots(ax, h2rX, h2rY, '#00f', 4.5, 'b-alfven-points');
  frame(ax);
  titleSub(ax.g, 901, 650, 'Hodogram (V2_V1 MVAV', ' frame)');
  txt(ax.g, 901, 1171, 'V2(km/s)', {fs: 16, anchor: 'middle'}, 'x-axis-title');
  txt(ax.g, 612, 890, 'V1(km/s)', {fs: 16, anchor: 'middle', rot: -90}, 'y-axis-title');
  lambdaText(ax.g, 686, 1094, '1', '2', '2.35');
})();

// Hodogram V3_V1 MVAV remaining
(function () {
  const xt = rng(-15, 15, 5), yt = rng(-15, 15, 5);
  const ax = axes({name: 'hodogram-v3-v1-mvav', x0: PX[2][0], x1: PX[2][1], y0: R2.y0, y1: R2.y1, xmin: -15, xmax: 15, ymin: -15, ymax: 15,
    xticks: xt, xlabels: lab(xt), yticks: yt, ylabels: lab(yt), grid: true});
  polyline(ax, h3rX, h3rY, '#00f', 2.5, 'b-alfven-path');
  dots(ax, h3rX, h3rY, '#00f', 4.5, 'b-alfven-points');
  frame(ax);
  titleSub(ax.g, 1457, 650, 'Hodogram (V3_V1 MVAV', ' frame)');
  txt(ax.g, 1457, 1171, 'V3(km/s)', {fs: 16, anchor: 'middle'}, 'x-axis-title');
  txt(ax.g, 1172, 890, 'V1(km/s)', {fs: 16, anchor: 'middle', rot: -90}, 'y-axis-title');
  lambdaText(ax.g, 1262, 1094, '1', '3', '11.36');
})();

// ---------------- TIME SERIES ----------------
const TSX = [118, 1690];
const tMax = tsStartMin + 67 * tsStepMin;

function timeSeries(o) {
  const ax = axes({name: o.name, x0: TSX[0], x1: TSX[1], y0: o.y0, y1: o.y1, xmin: tsStartMin, xmax: tMax, ymin: o.ymin, ymax: o.ymax,
    xticks: timeTickMin, xlabels: timeTickLabels, yticks: o.yticks, ylabels: o.ylabels, tickFs: 18, narrow: true, xTickDy: 22});
  if (o.zero) {
    const z = mk('line', {x1: TSX[0], x2: TSX[1], y1: ax.sy(0), y2: ax.sy(0), stroke: '#000', 'stroke-width': 1.5, 'stroke-dasharray': '8,6'}, ax.plot, 'zero-line', false);
  }
  o.series.forEach(s => {
    const xs = s.vals.map((v, i) => tsStartMin + i * tsStepMin);
    polyline(ax, xs, s.vals, s.color, 2, s.name);
  });
  frame(ax);
  const tt = txt(ax.g, 904, o.y0 - 11, o.title, {fs: 24, anchor: 'middle', narrow: true, len: o.titleLen}, 'chart-title');
  if (o.titleExtra) o.titleExtra(tt);
  const yl = txt(ax.g, 50, (o.y0 + o.y1) / 2, o.ylabel, {fs: 15, anchor: 'middle', rot: -90}, 'y-axis-title');
  if (o.ylabelExtra) o.ylabelExtra(yl);
  if (o.legend) {
    const L = o.legend;
    const lg = mk('g', {}, ax.g, 'legend', false);
    mk('rect', {x: L.x, y: L.y, width: L.w, height: L.h, fill: '#fff', stroke: '#000', 'stroke-width': 2.5}, lg, 'legend-box', false);
    L.items.forEach((it, i) => {
      const yy = L.y + L.pad + i * L.step;
      mk('line', {x1: L.x + 9, x2: L.x + 29, y1: yy, y2: yy, stroke: it.color, 'stroke-width': 3}, lg, 'legend-line', false);
      const lt = txt(lg, L.x + 37, yy + 7, it.label, {fs: 18, narrow: true}, 'legend-entry-' + it.key);
      if (it.extra) it.extra(lt);
    });
  }
  return ax;
}

timeSeries({name: 'magnetic-field-rtn-chart', y0: 1304, y1: 1527, ymin: -0.6, ymax: 0.6, zero: true,
  yticks: [-0.6, -0.4, -0.2, 0, 0.2, 0.4, 0.6], ylabels: ['−0.6', '−0.4', '−0.2', '0.0', '0.2', '0.4', '0.6'],
  title: 'Magnetic Field (RTN Frame)', titleLen: 320, ylabel: 'B(nT)',
  series: [{vals: Br, color: '#f00', name: 'br-line'}, {vals: Bt, color: '#008000', name: 'bt-line'}, {vals: Bn, color: '#00f', name: 'bn-line'}],
  legend: {x: 1612, y: 1312, w: 72, h: 72, pad: 14, step: 22, items: [{color: '#f00', label: 'Br', key: 'br'}, {color: '#008000', label: 'Bt', key: 'bt'}, {color: '#00f', label: 'Bn', key: 'bn'}]}});

timeSeries({name: 'magnetic-field-flux-rope-chart', y0: 1639, y1: 1862, ymin: -0.6, ymax: 0.6, zero: true,
  yticks: [-0.6, -0.4, -0.2, 0, 0.2, 0.4, 0.6], ylabels: ['−0.6', '−0.4', '−0.2', '0.0', '0.2', '0.4', '0.6'],
  title: 'Magnetic Field (Flux Rope Frame)', titleLen: 385, ylabel: 'B(nT)',
  series: [{vals: Bxp, color: '#f00', name: 'bx-prime-line'}, {vals: Byp, color: '#008000', name: 'by-prime-line'}, {vals: Bzp, color: '#00f', name: 'bz-prime-line'}, {vals: Bmag, color: '#000', name: 'b-magnitude-line'}],
  legend: {x: 1609, y: 1646, w: 75, h: 95, pad: 13, step: 22.5, items: [{color: '#f00', label: "Bx'", key: 'bx'}, {color: '#008000', label: "By'", key: 'by'}, {color: '#00f', label: "Bz'", key: 'bz'}, {color: '#000', label: '|B|', key: 'bmag'}]}});

timeSeries({name: 'solar-wind-velocity-chart', y0: 1973, y1: 2197, ymin: -100, ymax: 800,
  yticks: rng(-100, 800, 100), ylabels: lab(rng(-100, 800, 100)),
  title: 'Solar Wind Velocity (RTN Frame)', titleLen: 375, ylabel: 'Vsw(km/s)',
  series: [{vals: Vr, color: '#f00', name: 'vr-line'}, {vals: Vt, color: '#008000', name: 'vt-line'}, {vals: Vn, color: '#00f', name: 'vn-line'}],
  legend: {x: 1612, y: 1981, w: 72, h: 72, pad: 14, step: 22, items: [{color: '#f00', label: 'Vr', key: 'vr'}, {color: '#008000', label: 'Vt', key: 'vt'}, {color: '#00f', label: 'Vn', key: 'vn'}]}});

timeSeries({name: 'plasma-beta-chart', y0: 2306, y1: 2529, ymin: 0, ymax: 8,
  yticks: rng(0, 8, 1), ylabels: lab(rng(0, 8, 1)),
  title: 'Plasma Beta', titleLen: 140, ylabel: 'β',
  ylabelExtra: t => { const s = document.createElementNS(NS, 'tspan'); s.setAttribute('font-size', '10'); s.textContent = 'p'; t.appendChild(s); const s2 = document.createElementNS(NS, 'tspan'); s2.textContent = ' and β'; t.appendChild(s2); },
  series: [{vals: betaP, color: '#00f', name: 'beta-p-line'}],
  legend: {x: 1615, y: 2313, w: 69, h: 31, pad: 15, step: 22, items: [{color: '#00f', label: 'βp', key: 'beta-p'}]}});

timeSeries({name: 'proton-density-chart', y0: 2641, y1: 2864, ymin: 0.10525, ymax: 0.15,
  yticks: [0.11, 0.12, 0.13, 0.14, 0.15], ylabels: ['0.11', '0.12', '0.13', '0.14', '0.15'],
  title: 'Proton Number Density', titleLen: 270, ylabel: 'Np(#/cc)',
  series: [{vals: Np, color: '#00f', name: 'np-line'}]});

timeSeries({name: 'proton-temperature-chart', y0: 2975, y1: 3198, ymin: 0.040, ymax: 0.070,
  yticks: [0.040, 0.045, 0.050, 0.055, 0.060, 0.065, 0.070], ylabels: ['0.040', '0.045', '0.050', '0.055', '0.060', '0.065', '0.070'],
  title: 'Proton Temperature and Te/Tp', titleLen: 345, ylabel: 'Tp(10⁶K)',
  series: [{vals: Tp, color: '#00f', name: 'tp-line'}],
  legend: {x: 125, y: 2981, w: 71, h: 28, pad: 14, step: 22, items: [{color: '#00f', label: 'Tp', key: 'tp'}]}});
</script>
</body>
</html>
